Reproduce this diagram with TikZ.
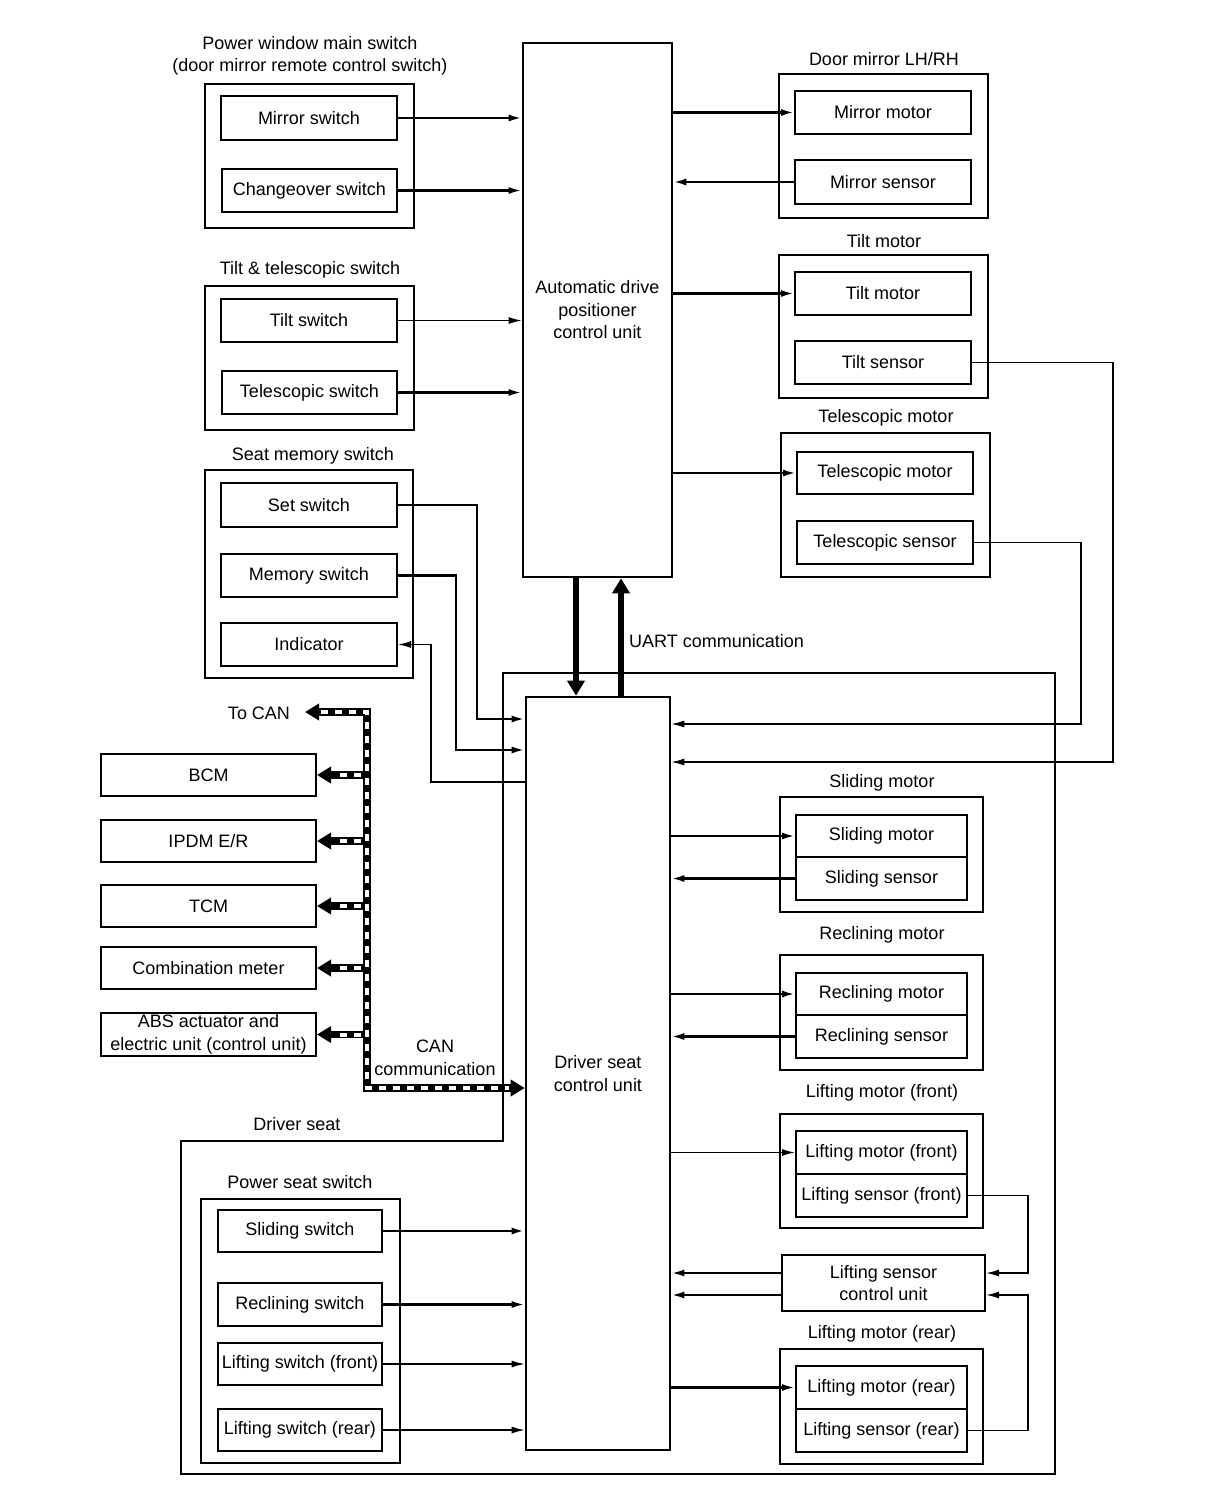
\documentclass[tikz,border=0pt]{standalone}
\usepackage{fontspec}
\setmainfont{Liberation Sans}
\usetikzlibrary{arrows.meta}
\newcommand\fsz{\fontsize{18}{22.5}\selectfont}
\newcommand\bx[7][box]{\node[#1, minimum width={(#5-#3)*1pt}, minimum height={(#6-#4)*1pt}] (#2) at ({(#3+#5)/2},{(#4+#6)/2}) {#7};}
\begin{document}
\begin{tikzpicture}[x=1pt,y=-1pt,
  box/.style={draw, line width=2pt, inner sep=0pt, align=center, font=\fsz},
  grp/.style={draw, line width=2.4pt, inner sep=0pt},
  mainbox/.style={draw, line width=2.6pt, inner sep=0pt, align=center, font=\fsz},
  lbl/.style={inner sep=0pt, align=center, font=\fsz},
  arr/.style={line width=2.3pt, -{Latex[length=13pt,width=7pt]}},
  arrt/.style={line width=1.4pt, -{Latex[length=13pt,width=7pt]}},
  uart/.style={line width=6pt, -{Triangle[length=15pt,width=17pt]}},
  canblack/.style={line width=7.5pt, black},
  canwhite/.style={line width=4pt, white, dash pattern=on 7pt off 7pt}]
\useasboundingbox (0,0) rectangle (1216,1510);
\fill[white] (0,0) rectangle (1216,1510);

% driver seat region
\draw[line width=2.4pt] (503,673) -- (1055,673) -- (1055,1474) -- (181,1474) -- (181,1141) -- (503,1141) -- cycle;
\node[lbl] (dslbl) at (297,1124) {Driver seat};

% main units
\bx[mainbox]{adp}{523}{43}{672}{577}{Automatic drive\\positioner\\control unit}
\bx[mainbox]{dscu}{526}{697}{670}{1450}{Driver seat\\control unit}

% power window main switch
\node[lbl] (pwt) at (310,56) {Power window main switch\\(door mirror remote control switch)};
\bx[grp]{pwg}{205}{84}{414}{228}{}
\bx{msw}{221}{96}{397}{140}{Mirror switch}
\bx{cosw}{222}{169}{397}{212}{Changeover switch}

% tilt & telescopic switch
\node[lbl] (ttt) at (310,270) {Tilt \& telescopic switch};
\bx[grp]{ttg}{205}{286}{414}{430}{}
\bx{tsw}{221}{299}{397}{342}{Tilt switch}
\bx{tesw}{222}{371}{397}{414}{Telescopic switch}

% seat memory switch
\node[lbl] (smt) at (313,456) {Seat memory switch};
\bx[grp]{smg}{205}{470}{413}{678}{}
\bx{setsw}{221}{483}{397}{527}{Set switch}
\bx{memsw}{221}{554}{397}{597}{Memory switch}
\bx{ind}{221}{623}{397}{666}{Indicator}

% CAN units
\bx{bcm}{101}{754}{316}{796}{BCM}
\bx{ipdm}{101}{820}{316}{862}{IPDM E/R}
\bx{tcm}{101}{885}{316}{927}{TCM}
\bx{comb}{101}{947}{316}{989}{Combination meter}
\bx{abs}{101}{1013}{316}{1056}{ABS actuator and\\electric unit (control unit)}
\node[lbl] (tocanlbl) at (259,713) {To CAN};
\node[lbl] (canlbl) at (435,1058) {CAN\\communication};

% power seat switch
\node[lbl] (pst) at (300,1182) {Power seat switch};
\bx[grp]{psg}{201}{1199}{400}{1463}{}
\bx{slsw}{218}{1210}{382}{1252}{Sliding switch}
\bx{resw}{218}{1283}{382}{1326}{Reclining switch}
\bx{lfsw}{218}{1343}{382}{1385}{Lifting switch (front)}
\bx{lrsw}{218}{1409}{382}{1451}{Lifting switch (rear)}

% door mirror
\node[lbl] (dmt) at (884,59) {Door mirror LH/RH};
\bx[grp]{dmg}{779}{74}{988}{218}{}
\bx{mmot}{795}{91}{971}{134}{Mirror motor}
\bx{msen}{795}{160}{971}{204}{Mirror sensor}

% tilt motor
\node[lbl] (tmt) at (884,241) {Tilt motor};
\bx[grp]{tmg}{779}{255}{988}{398}{}
\bx{tmot}{795}{272}{971}{315}{Tilt motor}
\bx{tsen}{795}{341}{971}{384}{Tilt sensor}

% telescopic motor
\node[lbl] (tet) at (886,418) {Telescopic motor};
\bx[grp]{teg}{781}{433}{990}{577}{}
\bx{temot}{797}{452}{973}{494}{Telescopic motor}
\bx{tesen}{797}{521}{973}{564}{Telescopic sensor}

% sliding motor
\node[lbl] (slt) at (882,783) {Sliding motor};
\bx[grp]{slg}{780}{797}{983}{912}{}
\bx{slmot}{796}{815}{967}{857}{Sliding motor}
\bx{slsen}{796}{857}{967}{900}{Sliding sensor}

% reclining motor
\node[lbl] (ret) at (882,935) {Reclining motor};
\bx[grp]{reg}{780}{955}{983}{1070}{}
\bx{remot}{796}{973}{967}{1015}{Reclining motor}
\bx{resen}{796}{1015}{967}{1058}{Reclining sensor}

% lifting motor front
\node[lbl] (lft) at (882,1093) {Lifting motor (front)};
\bx[grp]{lfg}{780}{1114}{983}{1228}{}
\bx{lfmot}{796}{1131}{967}{1174}{Lifting motor (front)}
\bx{lfsen}{796}{1174}{967}{1217}{Lifting sensor (front)}

% lifting sensor control unit
\bx{lscu}{782}{1255}{985}{1311}{Lifting sensor\\control unit}

% lifting motor rear
\node[lbl] (lrt) at (882,1334) {Lifting motor (rear)};
\bx[grp]{lrg}{780}{1349}{983}{1464}{}
\bx{lrmot}{796}{1366}{967}{1409}{Lifting motor (rear)}
\bx{lrsen}{796}{1409}{967}{1452}{Lifting sensor (rear)}

% connectors to ADP
\draw[arr] (msw.east) -- (msw.east -| adp.west);
\draw[arr] (cosw.east) -- (cosw.east -| adp.west);
\draw[arrt] (tsw.east) -- (tsw.east -| adp.west);
\draw[arr] (tesw.east) -- (tesw.east -| adp.west);
\draw[arr] (mmot.west -| adp.east) -- (mmot.west);
\draw[arr] (msen.west) -- (msen.west -| adp.east);
\draw[arr] (tmot.west -| adp.east) -- (tmot.west);
\draw[arr] (temot.west -| adp.east) -- (temot.west);

% UART
\draw[uart] (576,0 |- adp.south) -- (576,0 |- dscu.north);
\draw[uart] (621,0 |- dscu.north) -- (621,0 |- adp.south);
\node[lbl, anchor=west] (uartlbl) at (629,641) {UART communication};

% seat memory
\coordinate (c3) at (477,719);
\coordinate (c4) at (456,750);
\coordinate (c5) at (431,782);
\draw[arr] (setsw.east) -| (c3) -- (c3 -| dscu.west);
\draw[arr] (memsw.east) -| (c4) -- (c4 -| dscu.west);
\draw[arrt] (c5 -| dscu.west) -- (c5) |- (ind.east);

% sensors from ADP side
\coordinate (c1) at (1113,762);
\coordinate (c2) at (1081,724);
\draw[arrt] (tsen.east) -| (c1) -- (c1 -| dscu.east);
\draw[arrt] (tesen.east) -| (c2) -- (c2 -| dscu.east);

% DSCU right side
\draw[arr] (slmot.west -| dscu.east) -- (slmot.west);
\draw[arr] (slsen.west) -- (slsen.west -| dscu.east);
\draw[arr] (remot.west -| dscu.east) -- (remot.west);
\draw[arr] (resen.west) -- (resen.west -| dscu.east);
\draw[arrt] (lfmot.west -| dscu.east) -- (lfmot.west);
\draw[arr] (lrmot.west -| dscu.east) -- (lrmot.west);
\coordinate (c6) at (1028,1273);
\coordinate (c7) at (1028,1295);
\draw[arrt] (lfsen.east) -| (c6) -- (c6 -| lscu.east);
\draw[arrt] (lrsen.east) -| (c7) -- (c7 -| lscu.east);
\draw[arr] (c6 -| lscu.west) -- (c6 -| dscu.east);
\draw[arr] (c7 -| lscu.west) -- (c7 -| dscu.east);

% power seat switches
\draw[line width=2.8pt, -{Latex[length=13pt,width=7pt]}] (slsw.east) -- (slsw.east -| dscu.west);
\draw[arr] (resw.east) -- (resw.east -| dscu.west);
\draw[arrt] (lfsw.east) -- (lfsw.east -| dscu.west);
\draw[arrt] (lrsw.east) -- (lrsw.east -| dscu.west);

% CAN bus
\coordinate (bt) at (367,712);
\coordinate (bb) at (367,1088);
\coordinate (tocan) at (305,712);
\draw[canblack, {Triangle[length=14pt,width=16pt]}-{Triangle[length=14pt,width=16pt]}] (tocan) -- (bt) -- (bb) -- (bb -| dscu.west);
\foreach \n in {bcm,ipdm,tcm,comb,abs}{
  \draw[canblack, -{Triangle[length=14pt,width=16pt]}] (bt |- \n.east) -- (\n.east);
}
\draw[canwhite, shorten <=16pt, shorten >=16pt] (tocan) -- (bt) -- (bb) -- (bb -| dscu.west);
\foreach \n in {bcm,ipdm,tcm,comb,abs}{
  \draw[canwhite, shorten <=6pt, shorten >=16pt] (bt |- \n.east) -- (\n.east);
}
\end{tikzpicture}
\end{document}
